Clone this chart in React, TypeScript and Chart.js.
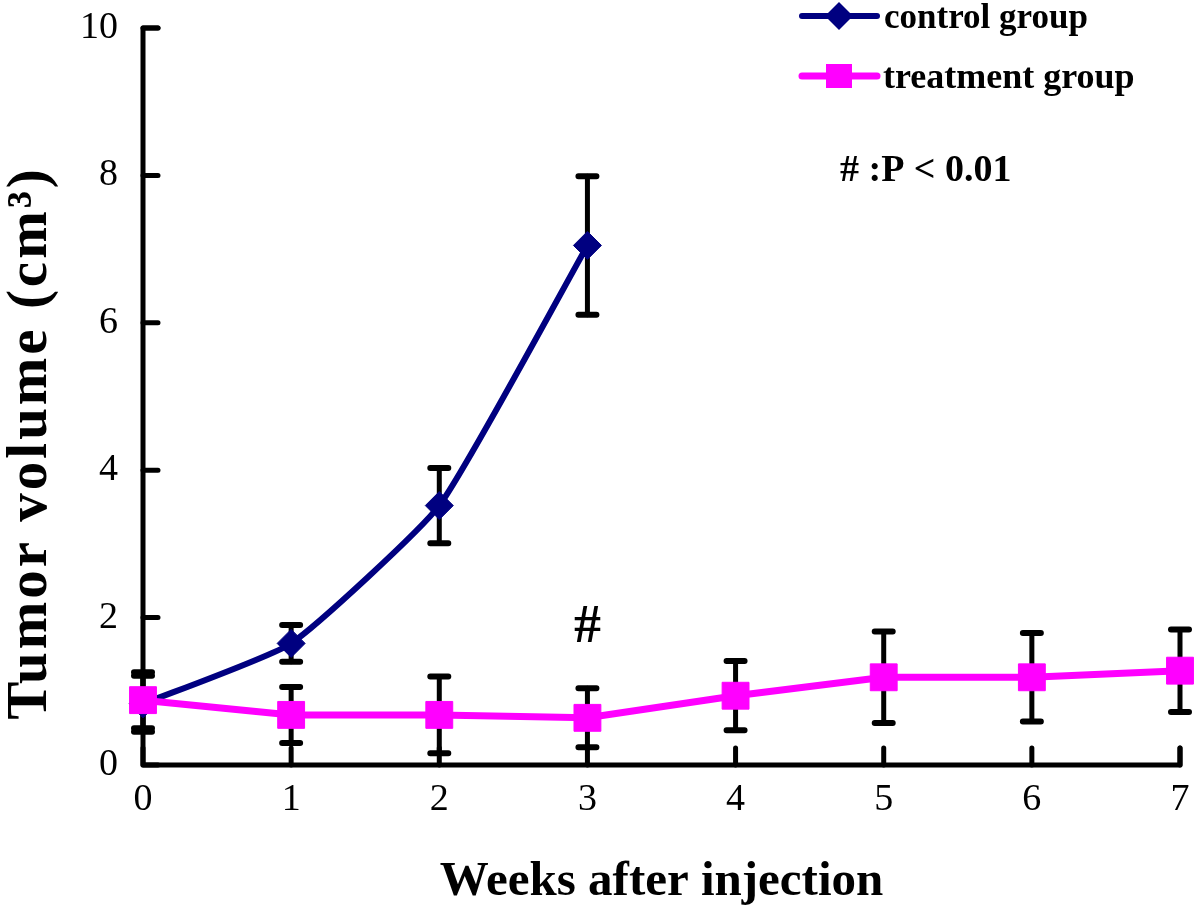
import React, { useEffect, useRef } from 'react';
import { Chart, registerables } from 'chart.js';

Chart.register(...registerables);

// ---------- data ----------
const weeks = [0, 1, 2, 3, 4, 5, 6, 7];
const controlWeeks = [0, 1, 2, 3];
const controlMean = [0.83, 1.65, 3.52, 7.05];
const controlSD = [0.38, 0.25, 0.51, 0.94];
const treatmentMean = [0.88, 0.68, 0.68, 0.64, 0.94, 1.19, 1.19, 1.28];
const treatmentSD = [0.38, 0.38, 0.52, 0.4, 0.47, 0.62, 0.6, 0.56];
const seriesLabels = ['control group', 'treatment group'];
const xTitle = 'Weeks after injection';
const yTitle = 'Tumor volume (cm³)';
const sigMark = '#';
const sigWeek = 3;
const sigValue = 1.86;
const sigNote = '# :P < 0.01';

// ---------- styles ----------
const NAVY = '#000080';
const MAGENTA = '#ff00ff';
const SERIF = '"Liberation Serif", "Times New Roman", serif';

const overlayPlugin = {
  id: 'overlay',
  beforeDatasetsDraw(chart: any) {
    const { ctx } = chart;
    const xs = chart.scales.x;
    const ys = chart.scales.y;
    const x0 = xs.getPixelForValue(xs.min);
    const xr = xs.getPixelForValue(xs.max);
    const y0 = ys.getPixelForValue(ys.min);
    const yt = ys.getPixelForValue(ys.max);
    ctx.save();
    ctx.strokeStyle = '#000';
    ctx.lineCap = 'round';
    ctx.lineJoin = 'round';
    ctx.lineWidth = 5;
    // axes
    ctx.beginPath();
    ctx.moveTo(x0 + 15, yt);
    ctx.lineTo(x0, yt);
    ctx.lineTo(x0, y0);
    ctx.lineTo(xr, y0);
    ctx.lineTo(xr, y0 - 17);
    ctx.stroke();
    // inside ticks
    ctx.beginPath();
    for (const t of ys.ticks) {
      const py = ys.getPixelForValue(t.value);
      ctx.moveTo(x0, py);
      ctx.lineTo(x0 + 15, py);
    }
    for (const t of xs.ticks) {
      const px = xs.getPixelForValue(t.value);
      ctx.moveTo(px, y0);
      ctx.lineTo(px, y0 - 17);
    }
    ctx.stroke();
    // error bars
    const drawErr = (xv: number[], mv: number[], sd: number[]) => {
      xv.forEach((w, i) => {
        const px = xs.getPixelForValue(w);
        const top = ys.getPixelForValue(mv[i] + sd[i]);
        const bot = ys.getPixelForValue(mv[i] - sd[i]);
        ctx.lineWidth = 5;
        ctx.beginPath();
        ctx.moveTo(px, top);
        ctx.lineTo(px, bot);
        ctx.stroke();
        ctx.lineWidth = 6;
        ctx.beginPath();
        ctx.moveTo(px - 9, top);
        ctx.lineTo(px + 9, top);
        ctx.moveTo(px - 9, bot);
        ctx.lineTo(px + 9, bot);
        ctx.stroke();
      });
    };
    drawErr(controlWeeks, controlMean, controlSD);
    drawErr(weeks, treatmentMean, treatmentSD);
    ctx.restore();
  },
  afterDatasetsDraw(chart: any) {
    const { ctx } = chart;
    const xs = chart.scales.x;
    const ys = chart.scales.y;
    const area = chart.chartArea;
    ctx.save();
    // legend
    ctx.lineCap = 'round';
    // control
    ctx.strokeStyle = NAVY;
    ctx.fillStyle = NAVY;
    ctx.lineWidth = 6;
    ctx.beginPath();
    ctx.moveTo(802, 16);
    ctx.lineTo(877, 16);
    ctx.stroke();
    ctx.beginPath();
    ctx.moveTo(839, 16 - 14);
    ctx.lineTo(839 + 14, 16);
    ctx.lineTo(839, 16 + 14);
    ctx.lineTo(839 - 14, 16);
    ctx.closePath();
    ctx.fill();
    // treatment
    ctx.strokeStyle = MAGENTA;
    ctx.fillStyle = MAGENTA;
    ctx.lineWidth = 7;
    ctx.beginPath();
    ctx.moveTo(802, 76);
    ctx.lineTo(877, 76);
    ctx.stroke();
    ctx.fillRect(839 - 13, 76 - 12, 26, 24);

    ctx.fillStyle = '#000';
    ctx.textAlign = 'left';
    ctx.textBaseline = 'alphabetic';
    ctx.font = `bold 35px ${SERIF}`;
    ctx.fillText(seriesLabels[0], 884, 28);
    ctx.font = `bold 36px ${SERIF}`;
    ctx.fillText(seriesLabels[1], 883, 88);

    // significance note
    ctx.font = `bold 38px ${SERIF}`;
    ctx.fillText(sigNote, 840, 181);
    // significance mark
    ctx.textAlign = 'center';
    ctx.textBaseline = 'middle';
    ctx.font = `bold 54px ${SERIF}`;
    ctx.fillText(sigMark, xs.getPixelForValue(sigWeek), ys.getPixelForValue(sigValue));

    // axis titles
    ctx.textAlign = 'center';
    ctx.textBaseline = 'alphabetic';
    ctx.font = `bold 49px ${SERIF}`;
    ctx.fillText(xTitle, (area.left + area.right) / 2, 895);

    ctx.save();
    ctx.translate(46, 443);
    ctx.rotate(-Math.PI / 2);
    ctx.font = `bold 57px ${SERIF}`;
    try { (ctx as any).letterSpacing = '3px'; } catch (e) {}
    ctx.fillText(yTitle, 0, 0);
    ctx.restore();

    ctx.restore();
  },
};

export default function App() {
  const ref = useRef<HTMLCanvasElement | null>(null);
  useEffect(() => {
    if (!ref.current) return;
    const chart = new Chart(ref.current, {
      type: 'line',
      data: {
        datasets: [
          {
            label: seriesLabels[1],
            data: weeks.map((w, i) => ({ x: w, y: treatmentMean[i] })),
            borderColor: MAGENTA,
            backgroundColor: MAGENTA,
            borderWidth: 7,
            pointStyle: 'rect',
            pointRadius: 19,
            pointBorderWidth: 1,
            pointBorderColor: MAGENTA,
            pointBackgroundColor: MAGENTA,
            tension: 0,
            clip: false as any,
            order: 0,
          },
          {
            label: seriesLabels[0],
            data: controlWeeks.map((w, i) => ({ x: w, y: controlMean[i] })),
            borderColor: NAVY,
            backgroundColor: NAVY,
            borderWidth: 6,
            pointStyle: 'rectRot',
            pointRadius: 14,
            pointBorderWidth: 1,
            pointBorderColor: NAVY,
            pointBackgroundColor: NAVY,
            tension: 0.15,
            clip: false as any,
            order: 1,
          },
        ],
      },
      options: {
        responsive: false,
        animation: false,
        layout: { padding: { top: 28, right: 14, left: 0, bottom: 0 } },
        plugins: {
          legend: { display: false },
          tooltip: { enabled: false },
        },
        scales: {
          x: {
            type: 'linear',
            min: 0,
            max: 7,
            ticks: {
              stepSize: 1,
              padding: 12,
              maxRotation: 0,
              color: '#000',
              font: { family: SERIF, size: 38 },
            },
            grid: { display: false, drawTicks: false },
            border: { display: false },
            afterFit(s: any) {
              s.height = 144;
              s.paddingLeft = 0;
              s.paddingRight = 0;
            },
          },
          y: {
            type: 'linear',
            min: 0,
            max: 10,
            ticks: {
              stepSize: 2,
              padding: 25,
              color: '#000',
              font: { family: SERIF, size: 38 },
            },
            grid: { display: false, drawTicks: false },
            border: { display: false },
            afterFit(s: any) {
              s.width = 143;
              s.paddingTop = 0;
              s.paddingBottom = 0;
            },
          },
        },
      },
      plugins: [overlayPlugin],
    } as any);
    return () => chart.destroy();
  }, []);
  return (
    <div style={{ position: 'absolute', left: 0, top: 0, width: 1200, height: 909, background: '#fff' }}>
      <canvas ref={ref} width={1200} height={909} />
    </div>
  );
}
